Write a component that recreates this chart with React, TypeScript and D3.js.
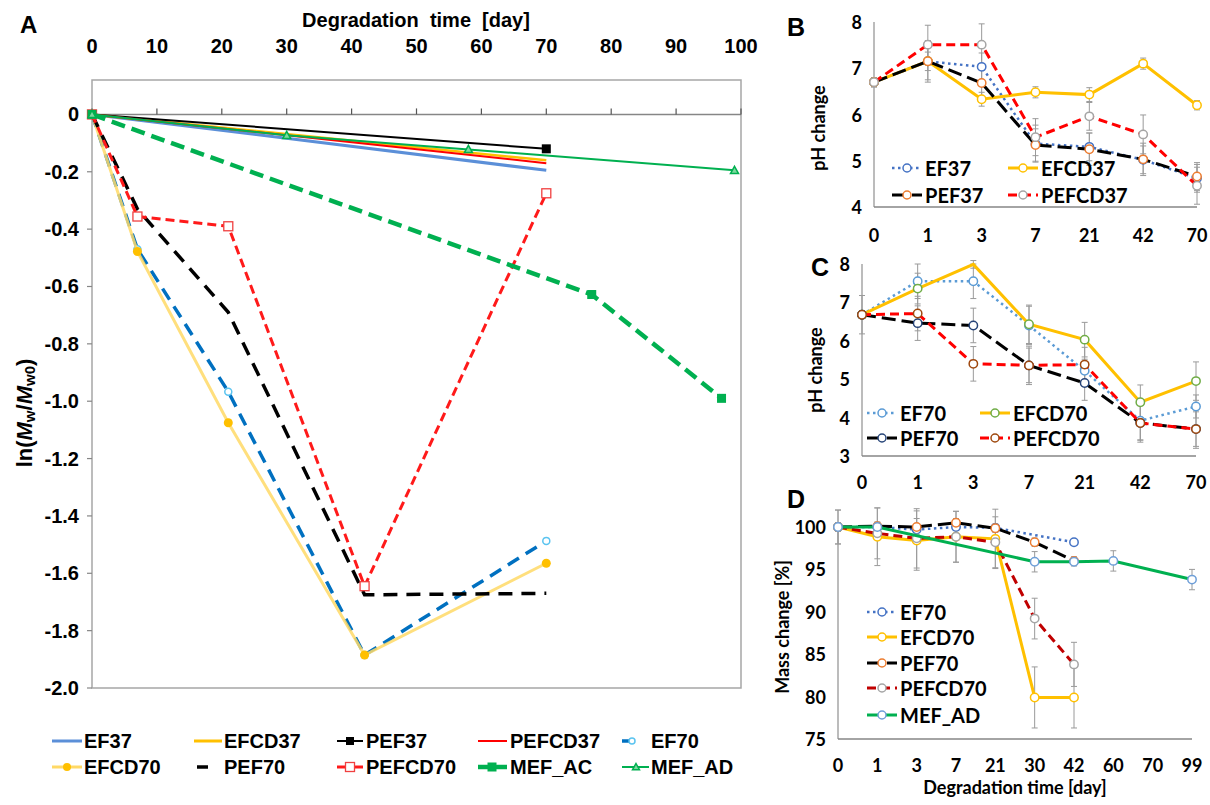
import React from 'react';
import * as d3 from 'd3';

// ---------- panel A : ln(Mw/Mw0) vs degradation time ----------
const daysA37 = [0, 70];
const ef37 = [0, -0.195];
const efcd37 = [0, -0.16];
const pef37 = [0, -0.12];
const pefcd37 = [0, -0.17];
const daysA70 = [0, 7, 21, 42, 70];
const ef70 = [0, -0.47, -0.967, -1.885, -1.487];
const efcd70 = [0, -0.478, -1.075, -1.885, -1.565];
const pef70 = [0, -0.33, -0.69, -1.675, -1.67];
const pefcd70 = [0, -0.356, -0.39, -1.645, -0.275];
const daysMefAc = [0, 77, 97];
const mefAc = [0, -0.628, -0.99];
const daysMefAd = [0, 30, 58, 99];
const mefAd = [0, -0.073, -0.122, -0.195];
const xTicksA = [0, 10, 20, 30, 40, 50, 60, 70, 80, 90, 100];
const yTicksA = [0, -0.2, -0.4, -0.6, -0.8, -1.0, -1.2, -1.4, -1.6, -1.8, -2.0];

// ---------- panels B, C : pH ----------
const catsPH = ['0', '1', '3', '7', '21', '42', '70'];
const phEF37 = [6.7, 7.15, 7.03, 5.37, 5.3, 5.02, 4.62];
const phEFCD37 = [6.7, 7.15, 6.33, 6.48, 6.43, 7.1, 6.2];
const phPEF37 = [6.7, 7.15, 6.68, 5.34, 5.25, 5.03, 4.66];
const phPEFCD37 = [6.7, 7.51, 7.51, 5.51, 5.96, 5.57, 4.46];
const errEF37 = [0.1, 0.2, 0.3, 0.4, 0.3, 0.3, 0.3];
const errEFCD37 = [0.1, 0.45, 0.15, 0.12, 0.15, 0.12, 0.1];
const errPEF37 = [0.1, 0.4, 0.3, 0.35, 0.35, 0.35, 0.3];
const errPEFCD37 = [0.1, 0.42, 0.45, 0.4, 0.3, 0.42, 0.4];
const yTicksB = [4, 5, 6, 7, 8];

const phEF70 = [6.68, 7.55, 7.55, 6.4, 5.22, 3.92, 4.29];
const phEFCD70 = [6.68, 7.36, 7.99, 6.43, 6.03, 4.4, 4.95];
const phPEF70 = [6.68, 6.46, 6.4, 5.36, 4.9, 3.86, 3.7];
const phPEFCD70 = [6.68, 6.71, 5.4, 5.36, 5.38, 3.86, 3.7];
const errEF70 = [0.5, 0.45, 0.45, 0.5, 0.3, 0.5, 0.3];
const errEFCD70 = [0.1, 0.4, 0.1, 0.5, 0.45, 0.45, 0.5];
const errPEF70 = [0.1, 0.45, 0.45, 0.5, 0.45, 0.5, 0.45];
const errPEFCD70 = [0.1, 0.45, 0.45, 0.45, 0.45, 0.45, 0.5];
const yTicksC = [3, 4, 5, 6, 7, 8];

// ---------- panel D : mass change ----------
const catsD = ['0', '1', '3', '7', '21', '30', '42', '60', '70', '99'];
const massEF70 = [100, 100, 99.7, 100, 99.9, null, 98.2, null, null, null];
const massEFCD70 = [100, 98.85, 98.4, 98.85, 98.6, 79.9, 79.9, null, null, null];
const massPEF70 = [100, 100.1, 100, 100.5, 99.85, 98.2, 96.0, null, null, null];
const massPEFCD70 = [100, 99.25, 98.66, 98.85, 98.2, 89.2, 83.8, null, null, null];
const massMEFAD = [100, 100, null, null, null, 95.9, 95.9, 96.0, null, 93.8];
const errMEF70 = [0.3, 0.3, 0.3, 0.3, 0.3, null, 0.3, null, null, null];
const errMEFCD70 = [2, 3.4, 3.5, 3, 3.5, 3.6, 3.6, null, null, null];
const errMPEF70 = [0.5, 0.5, 1, 0.5, 0.5, 0.5, 0.5, null, null, null];
const errMPEFCD70 = [2, 3, 3.5, 3, 3, 2.4, 2.6, null, null, null];
const errMMEFAD = [0.5, 0.5, null, null, null, 1.2, 0.5, 1.2, null, 1.2];
const yTicksD = [75, 80, 85, 90, 95, 100];

const FONT_A = "'Liberation Sans', Arial, sans-serif";
const FONT_R = "Lato, 'Open Sans', sans-serif";

type Marker = 'circleOpen' | 'circleFill' | 'square' | 'squareOpen' | 'triangle' | 'none';

function drawMarker(kind: Marker, x: number, y: number, color: string, key: string, r = 4.5, fill = '#fff') {
	if (kind === 'circleOpen')
		return <circle key={key} cx={x} cy={y} r={r} fill={fill} stroke={color} strokeWidth={1.5} />;
	if (kind === 'circleFill') return <circle key={key} cx={x} cy={y} r={r} fill={color} />;
	if (kind === 'square')
		return <rect key={key} x={x - r} y={y - r} width={r * 2} height={r * 2} fill={color} />;
	if (kind === 'squareOpen')
		return (
			<rect key={key} x={x - r} y={y - r} width={r * 2} height={r * 2} fill={fill} stroke={color} strokeWidth={1.3} />
		);
	if (kind === 'triangle')
		return (
			<path
				key={key}
				d={`M${x},${y - r}L${x + r},${y + r * 0.8}L${x - r},${y + r * 0.8}Z`}
				fill="#7fd89f"
				stroke={color}
				strokeWidth={1.5}
			/>
		);
	return null;
}

// ---------- panel A ----------
const xA = d3.scaleLinear().domain([0, 100]).range([92, 741]);
const yA = d3.scaleLinear().domain([-2, 0.12]).range([688, 80]);
const lineA = d3
	.line<[number, number]>()
	.x((d) => xA(d[0]))
	.y((d) => yA(d[1]));

interface SeriesA {
	name: string;
	days: number[];
	vals: number[];
	color: string;
	width: number;
	dash?: string;
	opacity?: number;
	marker: Marker;
	mColor: string;
	mSize: number;
}

const seriesA: SeriesA[] = [
	{ name: 'EF37', days: daysA37, vals: ef37, color: '#5b8fd8', width: 3, marker: 'none', mColor: '', mSize: 0 },
	{ name: 'EFCD37', days: daysA37, vals: efcd37, color: '#ffc000', width: 2.5, marker: 'none', mColor: '', mSize: 0 },
	{ name: 'PEF37', days: daysA37, vals: pef37, color: '#000', width: 2, marker: 'square', mColor: '#000', mSize: 4.5 },
	{ name: 'PEFCD37', days: daysA37, vals: pefcd37, color: '#ff0000', width: 2, marker: 'none', mColor: '', mSize: 0 },
	{ name: 'EF70', days: daysA70, vals: ef70, color: '#0070c0', width: 3.5, dash: '13 8', marker: 'circleOpen', mColor: '#5bc4f0', mSize: 3.5 },
	{ name: 'EFCD70', days: daysA70, vals: efcd70, color: '#ffd966', width: 3, opacity: 0.85, marker: 'circleFill', mColor: '#ffc000', mSize: 4.5 },
	{ name: 'PEF70', days: daysA70, vals: pef70, color: '#000', width: 3.5, dash: '14 9', marker: 'none', mColor: '', mSize: 0 },
	{ name: 'PEFCD70', days: daysA70, vals: pefcd70, color: '#ff1a1a', width: 3, dash: '9 5', marker: 'squareOpen', mColor: '#f04040', mSize: 4.5 },
	{ name: 'MEF_AC', days: daysMefAc, vals: mefAc, color: '#00b050', width: 4.5, dash: '14 7', marker: 'square', mColor: '#00b050', mSize: 4.5 },
	{ name: 'MEF_AD', days: daysMefAd, vals: mefAd, color: '#00b050', width: 2, marker: 'triangle', mColor: '#00b050', mSize: 4 },
];

function PanelA() {
	const r1 = 741;
	const r2 = 767;
	return (
		<g fontFamily={FONT_A} fontWeight="bold">
			<text x={20} y={24} fontSize={24} dominantBaseline="central">A</text>
			<text x={416} y={20} fontSize={20} textAnchor="middle" dominantBaseline="central" style={{ whiteSpace: 'pre' }}>
				Degradation  time  [day]
			</text>
			{xTicksA.map((t) => (
				<text key={t} x={xA(t)} y={46} fontSize={20} textAnchor="middle" dominantBaseline="central">
					{t}
				</text>
			))}
			<rect x={xA(0)} y={yA(0.12)} width={xA(100) - xA(0)} height={yA(-2) - yA(0.12)} fill="none" stroke="#a6a6a6" strokeWidth={1.5} />
			<line x1={xA(0)} x2={xA(100)} y1={yA(0)} y2={yA(0)} stroke="#868686" strokeWidth={1.5} />
			{xTicksA.map((t) => (
				<line key={t} x1={xA(t)} x2={xA(t)} y1={yA(0)} y2={yA(0) - 6} stroke="#555" strokeWidth={1.2} />
			))}
			{yTicksA.map((t) => (
				<g key={t}>
					<line x1={xA(0) - 5} x2={xA(0)} y1={yA(t)} y2={yA(t)} stroke="#868686" strokeWidth={1.2} />
					<text x={79} y={yA(t)} fontSize={20} textAnchor="end" dominantBaseline="central">
						{t === 0 ? '0' : t.toFixed(1)}
					</text>
				</g>
			))}
			<text transform="translate(24,413) rotate(-90)" fontSize={22} textAnchor="middle" dominantBaseline="central">
				<tspan>ln(</tspan>
				<tspan fontStyle="italic">M</tspan>
				<tspan fontSize={15} dy={5}>w</tspan>
				<tspan dy={-5}>/</tspan>
				<tspan fontStyle="italic">M</tspan>
				<tspan fontSize={15} dy={5}>w0</tspan>
				<tspan dy={-5}>)</tspan>
			</text>
			{seriesA.map((s) => (
				<g key={s.name}>
					<path
						d={lineA(s.days.map((d, i) => [d, s.vals[i]] as [number, number])) || ''}
						fill="none"
						stroke={s.color}
						strokeWidth={s.width}
						strokeDasharray={s.dash}
						opacity={s.opacity ?? 1}
					/>
					{s.days.map((d, i) => drawMarker(s.marker, xA(d), yA(s.vals[i]), s.mColor, s.name + i, s.mSize))}
				</g>
			))}
			{/* legend */}
			<g fontSize={20}>
				<line x1={52} x2={82} y1={r1} y2={r1} stroke="#5b8fd8" strokeWidth={3} />
				<text x={84} y={r1} dominantBaseline="central">EF37</text>
				<line x1={194} x2={222} y1={r1} y2={r1} stroke="#ffc000" strokeWidth={3} />
				<text x={224} y={r1} dominantBaseline="central">EFCD37</text>
				<line x1={337} x2={363} y1={r1} y2={r1} stroke="#000" strokeWidth={2} />
				{drawMarker('square', 350, r1, '#000', 'lg1', 4)}
				<text x={366} y={r1} dominantBaseline="central">PEF37</text>
				<line x1={478} x2={507} y1={r1} y2={r1} stroke="#ff0000" strokeWidth={2} />
				<text x={510} y={r1} dominantBaseline="central">PEFCD37</text>
				<line x1={622} x2={630} y1={r1} y2={r1} stroke="#0070c0" strokeWidth={3.5} />
				{drawMarker('circleOpen', 632, r1, '#5bc4f0', 'lg2', 3)}
				<text x={651} y={r1} dominantBaseline="central">EF70</text>

				<line x1={52} x2={82} y1={r2} y2={r2} stroke="#ffd966" strokeWidth={3} />
				{drawMarker('circleFill', 67, r2, '#ffc000', 'lg3', 4)}
				<text x={84} y={r2} dominantBaseline="central">EFCD70</text>
				<line x1={197} x2={208} y1={r2} y2={r2} stroke="#000" strokeWidth={3.5} />
				<text x={224} y={r2} dominantBaseline="central">PEF70</text>
				<line x1={337} x2={363} y1={r2} y2={r2} stroke="#ff1a1a" strokeWidth={3} />
				{drawMarker('squareOpen', 350, r2, '#f04040', 'lg4', 4.5)}
				<text x={366} y={r2} dominantBaseline="central">PEFCD70</text>
				<line x1={478} x2={507} y1={r2} y2={r2} stroke="#00b050" strokeWidth={4.5} />
				{drawMarker('square', 492, r2, '#00b050', 'lg5', 4.5)}
				<text x={510} y={r2} dominantBaseline="central">MEF_AC</text>
				<line x1={622} x2={649} y1={r2} y2={r2} stroke="#00b050" strokeWidth={2} />
				{drawMarker('triangle', 636, r2, '#00b050', 'lg6', 3.5)}
				<text x={651} y={r2} dominantBaseline="central">MEF_AD</text>
			</g>
		</g>
	);
}

// ---------- categorical panels ----------
interface CatSeries {
	name: string;
	values: (number | null)[];
	err: (number | null)[];
	color: string;
	width: number;
	dash?: string;
	cap?: 'round' | 'butt';
	mColor: string;
	hide?: number[];
}

interface CatProps {
	letter: string;
	letterPos: [number, number];
	cats: string[];
	xRange: [number, number];
	yDomain: [number, number];
	yRange: [number, number];
	yTicks: number[];
	series: CatSeries[];
	legendPos: [number, number][];
	yLabel: string;
	yLabelPos: [number, number];
	xLabelY: number;
	xTitle?: string;
}

function CatPanel(p: CatProps) {
	const x = d3.scalePoint<string>().domain(p.cats).range(p.xRange);
	const y = d3.scaleLinear().domain(p.yDomain).range(p.yRange);
	const line = d3
		.line<[string, number]>()
		.x((d) => x(d[0]) as number)
		.y((d) => y(d[1]));
	const pts = (s: CatSeries) =>
		s.values
			.map((v, i) => [p.cats[i], v] as [string, number | null])
			.filter((d) => d[1] != null) as [string, number][];
	const [xl, xr] = p.xRange;
	return (
		<g fontFamily={FONT_R} fontWeight="bold">
			<text x={p.letterPos[0]} y={p.letterPos[1]} fontFamily={FONT_A} fontSize={25} dominantBaseline="central">
				{p.letter}
			</text>
			<line x1={xl} x2={xl} y1={y(p.yDomain[1])} y2={y(p.yDomain[0])} stroke="#a6a6a6" strokeWidth={1.5} />
			<line x1={xl} x2={xr} y1={y(p.yDomain[0])} y2={y(p.yDomain[0])} stroke="#868686" strokeWidth={1.5} />
			{p.yTicks.map((t) => (
				<text key={t} x={xl - 12} y={y(t)} fontSize={18} textAnchor="end" dominantBaseline="central">
					{t}
				</text>
			))}
			{p.cats.map((c) => (
				<text key={c} x={x(c)} y={p.xLabelY} fontSize={18} textAnchor="middle" dominantBaseline="central">
					{c}
				</text>
			))}
			<text
				transform={`translate(${p.yLabelPos[0]},${p.yLabelPos[1]}) rotate(-90)`}
				fontSize={18}
				textAnchor="middle"
				dominantBaseline="central"
			>
				{p.yLabel}
			</text>
			{p.xTitle && (
				<text x={(xl + xr) / 2} y={p.xLabelY + 22} fontSize={18} textAnchor="middle" dominantBaseline="central">
					{p.xTitle}
				</text>
			)}
			{/* error bars */}
			{p.series.map((s) =>
				s.values.map((v, i) => {
					const e = s.err[i];
					if (v == null || e == null) return null;
					const cx = x(p.cats[i]) as number;
					return (
						<g key={s.name + 'e' + i} stroke="#9a9a9a" strokeWidth={1}>
							<line x1={cx} x2={cx} y1={y(v + e)} y2={y(v - e)} />
							<line x1={cx - 3} x2={cx + 3} y1={y(v + e)} y2={y(v + e)} />
							<line x1={cx - 3} x2={cx + 3} y1={y(v - e)} y2={y(v - e)} />
						</g>
					);
				}),
			)}
			{p.series.map((s) => (
				<g key={s.name}>
					<path
						d={line(pts(s)) || ''}
						fill="none"
						stroke={s.color}
						strokeWidth={s.width}
						strokeDasharray={s.dash}
						strokeLinecap={s.cap ?? 'butt'}
					/>
					{s.values.map((v, i) =>
						v == null || (s.hide && s.hide.includes(i))
							? null
							: drawMarker('circleOpen', x(p.cats[i]) as number, y(v), s.mColor, s.name + 'm' + i, 4.2),
					)}
				</g>
			))}
			{/* legend */}
			{p.series.map((s, i) => {
				const [lx, ly] = p.legendPos[i];
				return (
					<g key={s.name + 'lg'}>
						<line
							x1={lx}
							x2={lx + 30}
							y1={ly}
							y2={ly}
							stroke={s.color}
							strokeWidth={s.width}
							strokeDasharray={s.dash}
							strokeLinecap={s.cap ?? 'butt'}
						/>
						{drawMarker('circleOpen', lx + 15, ly, s.mColor, s.name + 'lgm', 4)}
						<text x={lx + 33} y={ly} fontSize={20} dominantBaseline="central">
							{s.name}
						</text>
					</g>
				);
			})}
		</g>
	);
}

const seriesB: CatSeries[] = [
	{ name: 'EF37', values: phEF37, err: errEF37, color: '#4472c4', width: 2.5, dash: '2.5 3.5', mColor: '#4472c4' },
	{ name: 'EFCD37', values: phEFCD37, err: errEFCD37, color: '#ffc000', width: 3, mColor: '#ffc000' },
	{ name: 'PEF37', values: phPEF37, err: errPEF37, color: '#000', width: 3, dash: '14 6', mColor: '#ed7d31' },
	{ name: 'PEFCD37', values: phPEFCD37, err: errPEFCD37, color: '#ff0000', width: 3, dash: '9 5', mColor: '#a5a5a5' },
];

const seriesC: CatSeries[] = [
	{ name: 'EF70', values: phEF70, err: errEF70, color: '#5b9bd5', width: 2.5, dash: '2.5 3.5', mColor: '#5b9bd5' },
	{ name: 'EFCD70', values: phEFCD70, err: errEFCD70, color: '#ffc000', width: 3, mColor: '#70ad47', hide: [2] },
	{ name: 'PEF70', values: phPEF70, err: errPEF70, color: '#000', width: 3, dash: '14 6', mColor: '#264478' },
	{ name: 'PEFCD70', values: phPEFCD70, err: errPEFCD70, color: '#ff0000', width: 3, dash: '9 5', mColor: '#9e480e' },
];

const seriesD: CatSeries[] = [
	{ name: 'EF70', values: massEF70, err: errMEF70, color: '#4472c4', width: 2.5, dash: '2.5 3.5', mColor: '#4472c4' },
	{ name: 'EFCD70', values: massEFCD70, err: errMEFCD70, color: '#ffc000', width: 3, mColor: '#ffc000' },
	{ name: 'PEF70', values: massPEF70, err: errMPEF70, color: '#000', width: 3, dash: '14 6', mColor: '#ed7d31' },
	{ name: 'PEFCD70', values: massPEFCD70, err: errMPEFCD70, color: '#c00000', width: 3, dash: '9 5', mColor: '#a5a5a5' },
	{ name: 'MEF_AD', values: massMEFAD, err: errMMEFAD, color: '#00b050', width: 3, mColor: '#6f9fd8' },
];

export default function App() {
	return (
		<svg width={1210} height={805} style={{ position: 'absolute', left: 0, top: 0, background: '#fff' }}>
			<rect width={1210} height={805} fill="#fff" />
			<PanelA />
			<CatPanel
				letter="B"
				letterPos={[787, 27]}
				cats={catsPH}
				xRange={[874, 1197]}
				yDomain={[4, 8]}
				yRange={[207, 22]}
				yTicks={yTicksB}
				series={seriesB}
				legendPos={[[892, 168], [1008, 168], [892, 195], [1008, 195]]}
				yLabel="pH change"
				yLabelPos={[818, 128]}
				xLabelY={235}
			/>
			<CatPanel
				letter="C"
				letterPos={[811, 267]}
				cats={catsPH}
				xRange={[862, 1196]}
				yDomain={[3, 8]}
				yRange={[456, 264]}
				yTicks={yTicksC}
				series={seriesC}
				legendPos={[[867, 413], [980, 413], [867, 438], [980, 438]]}
				yLabel="pH change"
				yLabelPos={[815, 370]}
				xLabelY={482}
			/>
			<CatPanel
				letter="D"
				letterPos={[787, 499]}
				cats={catsD}
				xRange={[838, 1192]}
				yDomain={[75, 100]}
				yRange={[739, 527]}
				yTicks={yTicksD}
				series={seriesD}
				legendPos={[[867, 612], [867, 637], [867, 663], [867, 688], [867, 715]]}
				yLabel="Mass change [%]"
				yLabelPos={[782, 627]}
				xLabelY={765}
				xTitle="Degradation time [day]"
			/>
		</svg>
	);
}
